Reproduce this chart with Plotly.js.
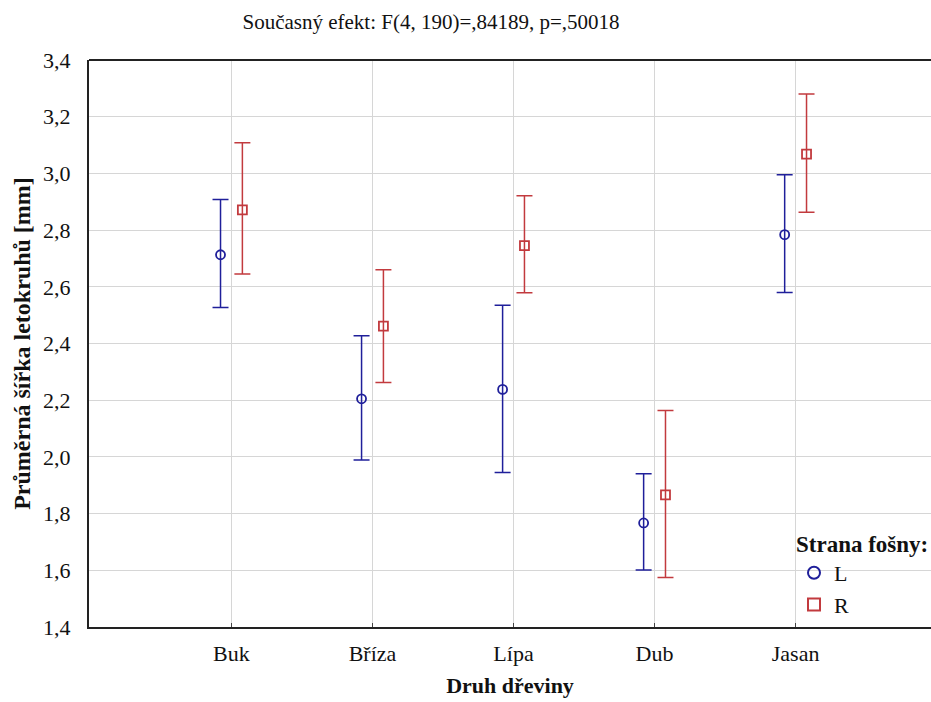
<!DOCTYPE html>
<html>
<head>
<meta charset="utf-8">
<script src="https://cdn.plot.ly/plotly-3.0.1.min.js"></script>
<style>html,body{margin:0;padding:0;background:#fff;}#chart{width:931px;height:702px;}</style>
</head>
<body>
<div id="chart"></div>
<script>
const categories = ["Buk", "Bříza", "Lípa", "Dub", "Jasan"];
const seriesNames = ["L", "R"];
const meanL  = [2.713, 2.205, 2.238, 1.767, 2.784];
const upperL = [2.908, 2.427, 2.535, 1.941, 2.995];
const lowerL = [2.527, 1.989, 1.945, 1.601, 2.580];
const meanR  = [2.871, 2.461, 2.745, 1.866, 3.068];
const upperR = [3.108, 2.660, 2.921, 2.164, 3.280];
const lowerR = [2.645, 2.262, 2.579, 1.575, 2.863];
const yTicks = [1.4, 1.6, 1.8, 2.0, 2.2, 2.4, 2.6, 2.8, 3.0, 3.2, 3.4];

const serif = "'Liberation Serif', serif";
const blue = "#1f1f9a";
const red = "#c23a3e";

function mk(name, mean, up, lo, color, symbol) {
  return {
    type: "scatter", mode: "markers", name: name,
    x: categories, y: mean, offsetgroup: name,
    marker: {symbol: symbol, size: 9, color: color, line: {color: color, width: 1.8}},
    error_y: {type: "data", symmetric: false,
      array: up.map((u, i) => u - mean[i]),
      arrayminus: lo.map((l, i) => mean[i] - l),
      color: color, thickness: 1.5, width: 8}
  };
}

const data = [
  mk(seriesNames[0], meanL, upperL, lowerL, blue, "circle-open"),
  mk(seriesNames[1], meanR, upperR, lowerR, red, "square-open")
];

const layout = {
  width: 931, height: 702,
  margin: {l: 89, r: 0, t: 60, b: 75},
  paper_bgcolor: "#fff", plot_bgcolor: "#fff",
  separators: ", ",
  scattermode: "group", scattergap: 0.69,
  font: {family: serif, size: 21, color: "#111"},
  title: {text: "Současný efekt: F(4, 190)=,84189, p=,50018", x: 0.463, xanchor: "center", xref: "container",
    y: 0.969, yanchor: "middle", yref: "container",
    font: {family: serif, size: 21, color: "#111"}},
  xaxis: {type: "category", range: [-1.01, 4.96], showgrid: true, gridcolor: "#d6d6d6", gridwidth: 1,
    showline: true, linecolor: "#222", linewidth: 2, ticks: "inside", ticklen: 4, tickcolor: "#444",
    ticklabelstandoff: 6,
    tickfont: {family: serif, size: 22, color: "#111"}, zeroline: false,
    title: {text: "<b>Druh dřeviny</b>", font: {family: serif, size: 22, color: "#111"}, standoff: 12}},
  yaxis: {range: [1.4, 3.4], tickvals: yTicks, tickformat: ".1f", showgrid: true, gridcolor: "#d6d6d6", gridwidth: 1,
    showline: true, linecolor: "#222", linewidth: 2, ticks: "", zeroline: false,
    ticklabelstandoff: 12,
    tickfont: {family: serif, size: 22, color: "#111"},
    title: {text: "<b>Průměrná šířka letokruhů [mm]</b>", font: {family: serif, size: 24, color: "#111"}, standoff: 6}},
  shapes: [{type: "line", xref: "paper", yref: "paper", x0: 0, x1: 1, y0: 1, y1: 1, line: {color: "#222", width: 2}}],
  showlegend: true,
  legend: {x: 1.0, xanchor: "right", y: 0.185, yanchor: "top", bgcolor: "rgba(0,0,0,0)",
    font: {family: serif, size: 22, color: "#111"}, tracegroupgap: 0, itemsizing: "constant",
    title: {text: "<b>Strana fošny:</b>", font: {family: serif, size: 23, color: "#111"}}}
};

Plotly.newPlot("chart", data, layout, {displayModeBar: false, staticPlot: true});
</script>
</body>
</html>
